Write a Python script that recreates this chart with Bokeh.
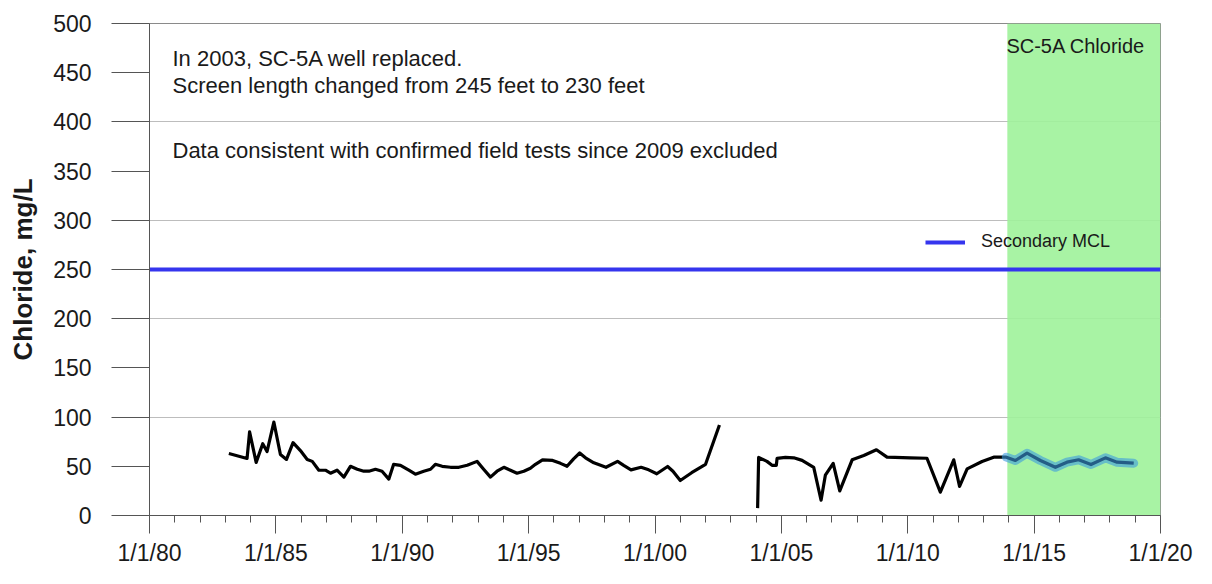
from bokeh.plotting import figure
from bokeh.models import Range1d, FixedTicker, Label, Legend, LegendItem, BoxAnnotation
from bokeh.embed import file_html
from bokeh.resources import INLINE

# ---- data (decimal years, chloride mg/L) ----
years_a = [1983.14, 1983.86, 1983.96, 1984.22, 1984.48, 1984.65, 1984.92, 1985.18, 1985.42,
           1985.68, 1985.97, 1986.24, 1986.44, 1986.70, 1986.96, 1987.16, 1987.42, 1987.69,
           1987.95, 1988.22, 1988.48, 1988.68, 1988.94, 1989.20, 1989.47, 1989.66, 1989.93,
           1990.26, 1990.52, 1990.85, 1991.12, 1991.31, 1991.58, 1991.91, 1992.24, 1992.57,
           1992.96, 1993.22, 1993.49, 1993.75, 1994.02, 1994.28, 1994.54, 1994.81, 1995.07,
           1995.27, 1995.55, 1995.95, 1996.26, 1996.52, 1996.78, 1997.02, 1997.25, 1997.58,
           1998.06, 1998.52, 1998.76, 1999.05, 1999.45, 1999.75, 2000.07, 2000.50, 2000.71,
           2001.00, 2001.45, 2002.00, 2002.55]
chloride_a = [63, 58, 85, 54, 73, 65, 95, 62, 57,
              74, 66, 57, 55, 46, 46, 43, 46, 39,
              50, 47, 45, 45, 47, 45, 37, 52, 51,
              46, 42, 45, 47, 52, 50, 49, 49, 51,
              55, 47, 39, 45, 49, 46, 43, 45, 48,
              52, 56.6, 56, 53, 50, 57.6, 63.5, 58.6, 53.5,
              49, 55, 51, 46.4, 49, 46.4, 42.4, 49.8, 45,
              35.6, 43.5, 52, 92]

years_b = [2004.06, 2004.10, 2004.43, 2004.63, 2004.80, 2004.83, 2005.16, 2005.49, 2005.82,
           2006.28, 2006.57, 2006.74, 2007.05, 2007.31, 2007.80, 2008.26, 2008.76, 2009.18,
           2010.10, 2010.76, 2011.29, 2011.82, 2012.05, 2012.35, 2012.94, 2013.40, 2013.90,
           2014.26, 2014.72, 2015.25, 2015.84, 2016.30, 2016.76, 2017.25, 2017.82, 2018.28,
           2018.94]
chloride_b = [7.5, 59, 55, 51, 51, 58, 59, 58.6, 56,
              49, 15.5, 41, 53, 25, 56.6, 61, 66.8, 59.3,
              58.6, 58.2, 23.7, 56.6, 29.5, 47.4, 54.9, 59.3, 59.3,
              55.9, 63.3, 55.9, 49, 54.2, 56.6, 51.8, 58.6, 54.2,
              53.2]

recent_start = 2013.9
shade_start, shade_end = 2013.94, 2020.0
mcl_value = 250

x_ticks = [1980, 1985, 1990, 1995, 2000, 2005, 2010, 2015, 2020]
x_tick_labels = ["1/1/80", "1/1/85", "1/1/90", "1/1/95", "1/1/00",
                 "1/1/05", "1/1/10", "1/1/15", "1/1/20"]
x_minor = list(range(1980, 2021))
y_ticks = [0, 50, 100, 150, 200, 250, 300, 350, 400, 450, 500]
y_grid = [100, 200, 300, 400]

notes = ["In 2003, SC-5A well replaced.",
         "Screen length changed from 245 feet to 230 feet",
         "Data consistent with confirmed field tests since 2009 excluded"]
note_y = [464, 437, 371]
title_text = "SC-5A Chloride"

FONT = "Liberation Sans"

p = figure(width=1196, height=568, output_backend="svg", toolbar_location=None,
           x_range=Range1d(x_ticks[0], x_ticks[-1]), y_range=Range1d(y_ticks[0], y_ticks[-1]),
           min_border_left=149, min_border_right=36, min_border_top=23, min_border_bottom=53)
p.background_fill_color = "white"
p.border_fill_color = "white"
p.outline_line_color = "#8a8a8a"
p.outline_line_width = 1

# green shaded period
p.add_layout(BoxAnnotation(left=shade_start, right=shade_end, fill_color="#9ef29a",
                           fill_alpha=0.9, line_alpha=0, level="underlay"))

# grids
p.xgrid.visible = False
p.ygrid.ticker = FixedTicker(ticks=y_grid)
p.ygrid.grid_line_color = "#bdbdbd"
p.ygrid.grid_line_width = 1

# MCL line
mcl_r = p.line([x_ticks[0], x_ticks[-1]], [mcl_value, mcl_value], line_color="#3535ee",
               line_width=4)

# data
p.line(years_a, chloride_a, line_color="black", line_width=3.2, line_join="round")
p.line(years_b, chloride_b, line_color="black", line_width=3.2, line_join="round")
rec_x = [x for x in years_b if x >= recent_start]
rec_y = [y for x, y in zip(years_b, chloride_b) if x >= recent_start]
p.line(rec_x, rec_y, line_color="#3c9be0", line_width=9, line_alpha=0.6,
       line_join="round", line_cap="round")

# axes
xa = p.xaxis[0]
xa.ticker = FixedTicker(ticks=x_ticks, minor_ticks=x_minor)
xa.major_label_overrides = {t: l for t, l in zip(x_ticks, x_tick_labels)}
xa.major_tick_in = 0
xa.major_tick_out = 18
xa.minor_tick_in = 0
xa.minor_tick_out = 7
xa.axis_line_color = "#555555"
xa.major_tick_line_color = "#555555"
xa.minor_tick_line_color = "#555555"
xa.major_label_standoff = 6
xa.major_label_text_font = FONT
xa.major_label_text_font_size = "23px"
xa.major_label_text_color = "#1a1a1a"

ya = p.yaxis[0]
ya.ticker = FixedTicker(ticks=y_ticks, minor_ticks=[])
ya.major_tick_in = 0
ya.major_tick_out = 38
ya.minor_tick_line_color = None
ya.axis_line_color = "#555555"
ya.major_tick_line_color = "#555555"
ya.major_label_standoff = 20
ya.major_label_text_font = FONT
ya.major_label_text_font_size = "23px"
ya.major_label_text_color = "#1a1a1a"
ya.axis_label = "Chloride, mg/L"
ya.axis_label_text_font = FONT
ya.axis_label_text_font_size = "26px"
ya.axis_label_text_font_style = "bold"
ya.axis_label_text_color = "#1a1a1a"
ya.axis_label_standoff = 12

# annotations
for txt, yy in zip(notes, note_y):
    p.add_layout(Label(x=1980.91, y=yy, text=txt, text_font=FONT, text_font_size="22px",
                       text_baseline="middle", text_align="left", text_color="#1a1a1a"))
p.add_layout(Label(x=2019.4, y=477.5, text=title_text, text_font=FONT, text_font_size="20px",
                   text_baseline="middle", text_align="right", text_color="#1a1a1a"))

legend = Legend(items=[LegendItem(label="Secondary MCL", renderers=[mcl_r])],
                location=(776, 263), padding=0, margin=0, spacing=0,
                glyph_width=40, glyph_height=20, label_height=20, label_standoff=16,
                label_text_font=FONT, label_text_font_size="18px", label_text_color="#1a1a1a",
                background_fill_alpha=0, border_line_alpha=0)
p.add_layout(legend)

open("out.html", "w").write(file_html(p, INLINE))
